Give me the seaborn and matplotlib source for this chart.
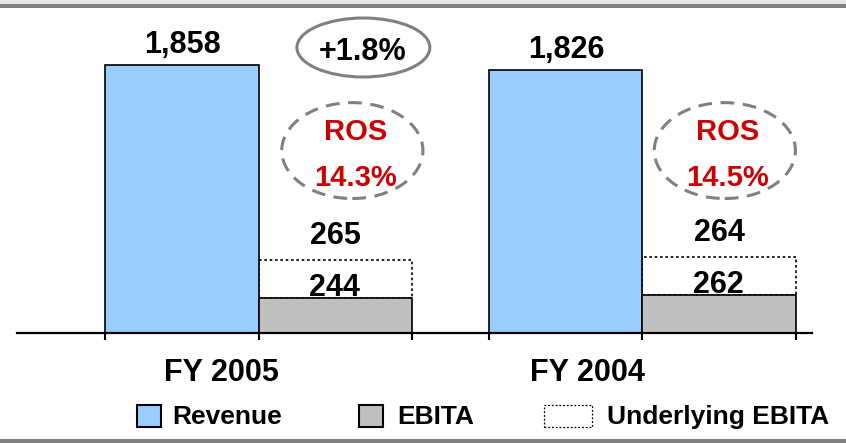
import numpy as np
import pandas as pd
import matplotlib
matplotlib.use("Agg")
import matplotlib.pyplot as plt
import seaborn as sns
from matplotlib.patches import Ellipse, Rectangle


years = ["FY 2005", "FY 2004"]
revenue = [1858, 1826]
ebita = [244, 262]
underlying_ebita = [265, 264]
growth = "+1.8%"
ros = ["14.3%", "14.5%"]
series_names = ["Revenue", "EBITA", "Underlying EBITA"]

rev_pos = [0, 2.5]
ebita_pos = [1, 3.5]

BLUE = "#99CCFF"
GRAY = "#C0C0C0"
RED = "#CC0000"
LINE_GRAY = "#808080"

sns.set_theme(style="white")
plt.rcParams["font.family"] = ["Liberation Sans", "DejaVu Sans"]
plt.rcParams["font.weight"] = "bold"
plt.rcParams["text.color"] = "black"

W, H = 846, 443
fig = plt.figure(figsize=(W / 100, H / 100), dpi=100)
ax = fig.add_axes([17 / W, 110 / H, 795 / W, 323 / H])


def px(x, y):
    # pixel (from top-left) -> figure fraction
    return x / W, 1 - y / H


# dashed "underlying" boxes stacked on EBITA
ax.bar(ebita_pos, underlying_ebita, width=1, bottom=ebita, color="white",
       edgecolor="black", linewidth=1.2, linestyle=(0, (1.6, 1.6)), zorder=1)

df = pd.DataFrame({
    "pos": rev_pos + ebita_pos,
    "value": revenue + ebita,
    "series": ["Revenue"] * 2 + ["EBITA"] * 2,
})
sns.barplot(data=df, x="pos", y="value", hue="series", native_scale=True,
            dodge=False, width=1, errorbar=None, legend=False,
            palette={"Revenue": BLUE, "EBITA": GRAY},
            edgecolor="black", linewidth=1.2, saturation=1, ax=ax, zorder=2)

ax.set_xlim(-1.075, 4.105)
ax.set_ylim(0, 2240)

for s in ["top", "right", "left"]:
    ax.spines[s].set_visible(False)
ax.spines["bottom"].set_color("black")
ax.spines["bottom"].set_linewidth(1.6)
ax.set_yticks([])
ax.set_xlabel("")
ax.set_ylabel("")

ax.set_xticks([0.254, 2.645], labels=years)
ax.set_xticks([-0.5, 0.5, 1.5, 2.0, 3.0, 4.0], minor=True)
ax.tick_params(axis="x", which="major", length=0, pad=18, labelsize=22,
               labelcolor="black")
ax.tick_params(axis="x", which="minor", bottom=True, length=5, width=1.5,
               direction="out", color="black")
for t in ax.get_xticklabels():
    t.set_fontweight("bold")

# value labels
for p, v in zip(rev_pos, revenue):
    ax.annotate(f"{v:,}", (p, v), xytext=(1, 12), textcoords="offset pixels",
                ha="center", va="baseline", fontsize=22, fontweight="bold",
                color="black")
for p, e, u in zip(ebita_pos, ebita, underlying_ebita):
    ax.annotate(f"{e}", (p, e), xytext=(-1, 2), textcoords="offset pixels",
                ha="center", va="baseline", fontsize=22, fontweight="bold",
                color="black")
    ax.annotate(f"{u}", (p, e + u), xytext=(0, 16), textcoords="offset pixels",
                ha="center", va="baseline", fontsize=22, fontweight="bold",
                color="black")

# growth bubble
ax.add_patch(Ellipse((1.182, 1980), 0.866, 409, fill=False,
                     edgecolor=LINE_GRAY, linewidth=2.2, clip_on=False))
ax.text(1.179, 1949, growth, ha="center", va="center", fontsize=22,
        fontweight="bold", color="black")

# ROS bubbles
for cx, r in zip([1.11, 3.537], ros):
    ax.add_patch(Ellipse((cx, 1265), 0.92, 665, fill=False,
                         edgecolor=LINE_GRAY, linewidth=2.2,
                         linestyle=(0, (4.5, 2.8)), clip_on=False))
    ax.text(cx + 0.02, 1394, "ROS", ha="center", va="center", fontsize=21,
            fontweight="bold", color=RED)
    ax.text(cx + 0.02, 1075, r, ha="center", va="center", fontsize=21,
            fontweight="bold", color=RED)

# frame lines at top and bottom
fig.add_artist(Rectangle(px(0, 4), 1, 4 / H, transform=fig.transFigure,
                         color="#E6E6E6", lw=0))
fig.add_artist(Rectangle(px(0, 8), 1, 4 / H, transform=fig.transFigure,
                         color=LINE_GRAY, lw=0))
fig.add_artist(Rectangle(px(0, 443), 1, 4 / H, transform=fig.transFigure,
                         color=LINE_GRAY, lw=0))

# legend drawn by hand
legend_items = [
    (137, 24, BLUE, "-", 172),
    (359, 24, GRAY, "-", 397),
    (544, 48, "white", (0, (1.5, 1.5)), 607),
]
for (x0, w, fc, ls, tx), name in zip(legend_items, series_names):
    lw = 1.5 if ls == "-" else 0.9
    fig.add_artist(Rectangle(px(x0, 427), w / W, 22 / H,
                             transform=fig.transFigure, facecolor=fc,
                             edgecolor="black", linewidth=lw, linestyle=ls))
    fig.text(*px(tx, 424), name, ha="left", va="baseline", fontsize=19,
             fontweight="bold", color="black")

fig.savefig("out.png", dpi=100)
